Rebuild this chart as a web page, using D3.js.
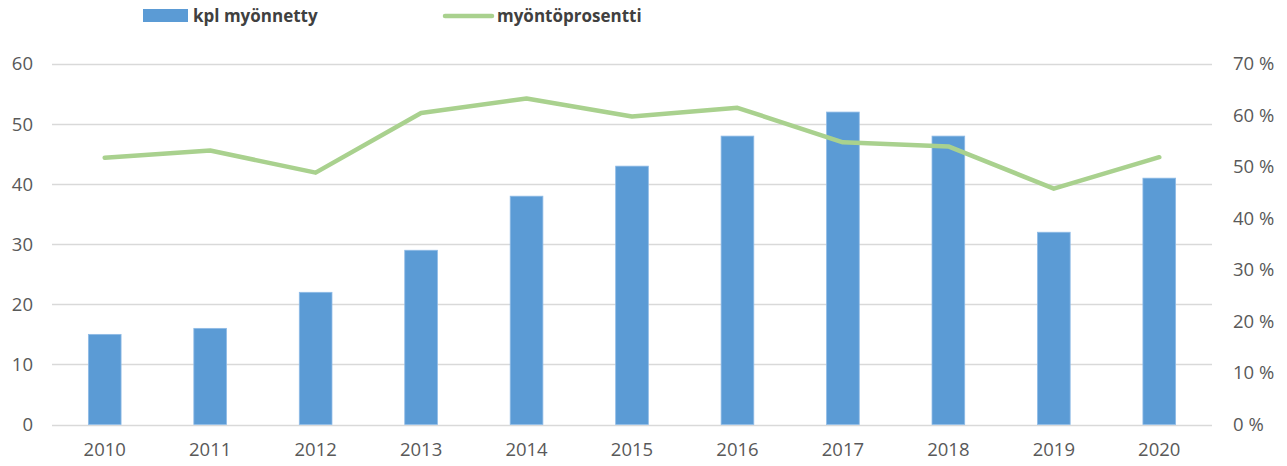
<!DOCTYPE html>
<html>
<head>
<meta charset="utf-8">
<script src="https://cdn.jsdelivr.net/npm/d3@7"></script>
<style>
  html, body { margin: 0; padding: 0; background: #fff; }
  svg { display: block; font-family: "Open Sans", "Liberation Sans", sans-serif; }
</style>
</head>
<body>
<svg id="chart" width="1287" height="466"></svg>
<script>
const years = ["2010","2011","2012","2013","2014","2015","2016","2017","2018","2019","2020"];
const kplMyonnetty = [15, 16, 22, 29, 38, 43, 48, 52, 48, 32, 41];
const myontoprosentti = [51.8, 53.2, 48.9, 60.5, 63.3, 59.8, 61.5, 54.8, 54.0, 45.8, 51.9];
const leftTicks = [0, 10, 20, 30, 40, 50, 60];
const rightTicks = [0, 10, 20, 30, 40, 50, 60, 70];
const seriesNames = ["kpl myönnetty", "myöntöprosentti"];

(function () {
const svg = d3.select("#chart");
const pLeft = 52, pRight = 1212, pTop = 64, pBottom = 424.5;

const x = d3.scaleBand().domain(years).range([pLeft, pRight]).paddingInner(0.69).paddingOuter(0.345);
const yL = d3.scaleLinear().domain([0, 60]).range([pBottom, pTop]);
const yR = d3.scaleLinear().domain([0, 70]).range([pBottom, pTop]);

const textColor = "#595959";

// gridlines
svg.append("g").selectAll("line").data(leftTicks).join("line")
  .attr("x1", pLeft).attr("x2", pRight)
  .attr("y1", d => Math.round(yL(d)) + 0.5).attr("y2", d => Math.round(yL(d)) + 0.5)
  .attr("stroke", "#d9d9d9").attr("stroke-width", 1.3);

// left axis
const axL = svg.append("g").attr("transform", `translate(${pLeft},0)`)
  .call(d3.axisLeft(yL).tickValues(leftTicks).tickSize(0).tickPadding(19));
axL.select(".domain").remove();
axL.selectAll("text").attr("fill", textColor).style("font-size", "18.5px").style("font-family", "'Open Sans', sans-serif");

// right axis
const axR = svg.append("g").attr("transform", `translate(${pRight},0)`)
  .call(d3.axisRight(yR).tickValues(rightTicks).tickSize(0).tickPadding(21).tickFormat(d => d + " %"));
axR.select(".domain").remove();
axR.selectAll("text").attr("fill", textColor).style("font-size", "18.5px").style("font-family", "'Open Sans', sans-serif");

// x axis
const axX = svg.append("g").attr("transform", `translate(0,${pBottom})`)
  .call(d3.axisBottom(x).tickSize(0).tickPadding(18));
axX.select(".domain").remove();
axX.selectAll("text").attr("fill", textColor).style("font-size", "18.5px").style("font-family", "'Open Sans', sans-serif");

// bars
svg.append("g").selectAll("rect").data(years).join("rect")
  .attr("x", d => x(d))
  .attr("width", x.bandwidth())
  .attr("y", (d, i) => yL(kplMyonnetty[i]))
  .attr("height", (d, i) => yL(0) - yL(kplMyonnetty[i]))
  .attr("fill", "#5b9bd5")
  .attr("stroke", "#8fbbe6").attr("stroke-width", 0.8);

// line
const line = d3.line()
  .x((d, i) => x(years[i]) + x.bandwidth() / 2)
  .y(d => yR(d));
svg.append("path").datum(myontoprosentti)
  .attr("d", line)
  .attr("fill", "none")
  .attr("stroke", "#a9d18e")
  .attr("stroke-width", 4.5)
  .attr("stroke-linejoin", "round")
  .attr("stroke-linecap", "round");

// legend
const lg = svg.append("g");
lg.append("rect").attr("x", 143).attr("y", 9).attr("width", 45).attr("height", 13).attr("fill", "#5b9bd5");
lg.append("text").attr("x", 193).attr("y", 22).text(seriesNames[0])
  .attr("fill", "#404040").style("font-size", "17px").style("font-weight", "bold");
lg.append("line").attr("x1", 445).attr("x2", 492).attr("y1", 16).attr("y2", 16)
  .attr("stroke", "#a9d18e").attr("stroke-width", 4.5).attr("stroke-linecap", "round");
lg.append("text").attr("x", 497).attr("y", 22).text(seriesNames[1])
  .attr("fill", "#404040").style("font-size", "17px").style("font-weight", "bold");
})();
</script>
</body>
</html>
